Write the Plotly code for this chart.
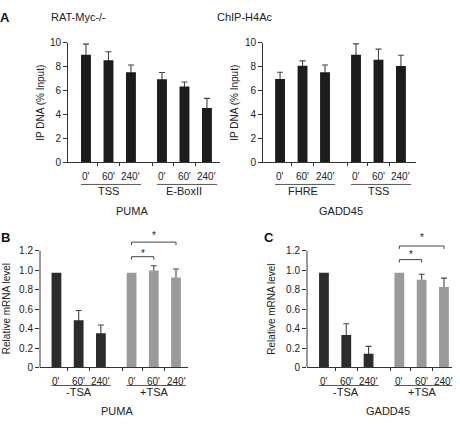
import plotly.graph_objects as go

W, H = 460, 424
FONT = "Liberation Sans, Arial, Helvetica, sans-serif"

# ---------------- data ----------------
times = ["0'", "60'", "240'"]

# Panel A - ChIP-H4Ac
a_title_left = "RAT-Myc-/-"
a_title_right = "ChIP-H4Ac"
a_ylabel = "IP DNA (% Input)"
a_left_gene = "PUMA"
a_left_groups = ["TSS", "E-BoxII"]
a_left_vals = [9.0, 8.56, 7.55, 6.95, 6.35, 4.56]
a_left_err = [0.9, 0.7, 0.6, 0.57, 0.38, 0.8]

a_right_gene = "GADD45"
a_right_groups = ["FHRE", "TSS"]
a_right_vals = [6.98, 8.1, 7.55, 9.02, 8.59, 8.07]
a_right_err = [0.57, 0.4, 0.6, 0.9, 0.89, 0.9]

a_yticks = [0, 2, 4, 6, 8, 10]
a_yticktext = ["0", "2", "4", "6", "8", "10"]

# Panels B / C - relative mRNA
bc_ylabel = "Relative mRNA level"
bc_groups = ["-TSA", "+TSA"]
b_gene = "PUMA"
b_vals = [0.975, 0.487, 0.353, 0.975, 0.997, 0.927]
b_err = [0, 0.1, 0.084, 0, 0.05, 0.086]
b_brackets = [(3, 4, 1.14, 1.20), (3, 5, 1.29, 1.39)]

c_gene = "GADD45"
c_vals = [0.975, 0.333, 0.14, 0.975, 0.903, 0.827]
c_err = [0, 0.117, 0.077, 0, 0.057, 0.093]
c_brackets = [(3, 4, 1.11, 1.19), (3, 5, 1.25, 1.37)]

bc_yticks = [0, 0.2, 0.4, 0.6, 0.8, 1.0, 1.2]
bc_yticktext = ["0", "0.2", "0.4", "0.6", "0.8", "1.0", "1.2"]
star = "*"

# ---------------- styling ----------------
GAP = 3.38
positions = [g * GAP + t for g in range(2) for t in range(3)]
DARK_A = "#1c1c1c"
DARK_BC = "#2c2c2c"
GRAY = "#9a9a9a"
LINE = "#333333"
TXT = "#222222"

fig = go.Figure()
shapes = []
annotations = []


def px_x(p):
    return p / W


def px_y(p):
    return 1 - p / H


def note(text, x, y, size=10, **kw):
    d = dict(text=text, x=x, y=y, showarrow=False, xanchor="center",
             yanchor="middle", font=dict(size=size, color=kw.pop("color", TXT),
                                          family=FONT))
    d.update(kw)
    return d


def add_panel(n, vals, err, colors, groups, gene, xdom, ydom, xrange, yrange,
              yticks, yticktext, ylabel, ylabel_xy, gene_x, offs, axis_line_top=None):
    xs = "" if n == 1 else str(n)
    xa, ya = "x" + xs, "y" + xs
    # error bars (drawn underneath the bars so only the upper half shows)
    ex = [positions[i] for i in range(6) if err[i] > 0]
    ey = [vals[i] for i in range(6) if err[i] > 0]
    ee = [err[i] for i in range(6) if err[i] > 0]
    fig.add_trace(go.Bar(x=ex, y=ey, width=0.44, xaxis=xa, yaxis=ya,
                         marker=dict(color="rgba(0,0,0,0)", line=dict(width=0)),
                         error_y=dict(type="data", array=ee, symmetric=True,
                                      color="#444444", thickness=1.1, width=3),
                         showlegend=False, hoverinfo="skip"))
    fig.add_trace(go.Bar(x=positions, y=vals, width=0.44, xaxis=xa, yaxis=ya,
                         marker=dict(color=colors, line=dict(width=0)),
                         showlegend=False))
    fig.layout["xaxis" + xs] = dict(
        domain=[px_x(xdom[0]), px_x(xdom[1])], range=xrange, anchor=ya,
        showline=True, linecolor=LINE, linewidth=1, ticks="outside",
        tickvals=[0.5, 1.5, GAP - 0.4, GAP + 0.5, GAP + 1.5], ticklen=3,
        tickcolor=LINE, showticklabels=False, showgrid=False, zeroline=False,
        fixedrange=True)
    fig.layout["yaxis" + xs] = dict(
        domain=[px_y(ydom[1]), px_y(ydom[0])], range=yrange, anchor=xa,
        showline=axis_line_top is None, linecolor=LINE, linewidth=1,
        ticks="outside", ticklen=4, tickcolor=LINE, tickvals=yticks,
        ticktext=yticktext, tickfont=dict(size=10, color=TXT, family=FONT),
        showgrid=False, zeroline=False, fixedrange=True)
    if axis_line_top is not None:
        shapes.append(dict(type="line", xref=xa + " domain", yref=ya, x0=0, x1=0,
                           y0=0, y1=axis_line_top, line=dict(color=LINE, width=1)))
    t_off, u_off, g_off, gene_off = offs
    for i, p in enumerate(positions):
        annotations.append(note(times[i % 3], p, 0, 10, xref=xa, yref=ya + " domain",
                                yshift=t_off))
    for g, name in enumerate(groups):
        shapes.append(dict(type="line", xref=xa, yref=ya + " domain",
                           ysizemode="pixel", yanchor=0, x0=g * GAP - 0.22,
                           x1=g * GAP + 2.45, y0=u_off, y1=u_off,
                           line=dict(color="#555555", width=1)))
        annotations.append(note(name, g * GAP + 1, 0, 11, xref=xa,
                                yref=ya + " domain", yshift=g_off))
    annotations.append(note(gene, gene_x, 0, 11, xref=xa, yref=ya + " domain",
                            yshift=gene_off))
    annotations.append(note(ylabel, px_x(ylabel_xy[0]), px_y(ylabel_xy[1]), 10,
                            xref="paper", yref="paper", textangle=-90))
    return xa, ya


colors_a = [DARK_A] * 6
colors_bc = [DARK_BC] * 3 + [GRAY] * 3

add_panel(1, a_left_vals, a_left_err, colors_a, a_left_groups, a_left_gene,
          (68, 220), (38, 161), [-0.80, 5.96], [0, 10], a_yticks, a_yticktext,
          a_ylabel, (41, 99.5), 2.04, (-14, -22, -29, -49))
add_panel(2, a_right_vals, a_right_err, colors_a, a_right_groups, a_right_gene,
          (263, 416), (38, 161), [-0.76, 6.05], [0, 10], a_yticks, a_yticktext,
          a_ylabel, (235, 99.5), 2.69, (-14, -22, -29, -49))

for n, vals, err, gene, xdom, xr, ylx, gx, brackets in [
        (3, b_vals, b_err, b_gene, (40, 188), [-0.74, 5.92], 6, 2.72, b_brackets),
        (4, c_vals, c_err, c_gene, (307, 452), [-0.76, 5.74], 271.5, 2.85, c_brackets)]:
    add_panel(n, vals, err, colors_bc, bc_groups, gene, xdom, (227, 372), xr,
              [0, 1.45], bc_yticks, bc_yticktext, bc_ylabel, (ylx, 312), gx,
              (-14, -18, -25, -44), axis_line_top=1.2)
    xa, ya = "x" + str(n), "y" + str(n)
    for i0, i1, lvl, slvl in brackets:
        x0, x1 = positions[i0], positions[i1]
        shapes.append(dict(type="path", xref=xa, yref=ya, fillcolor="rgba(0,0,0,0)",
                           path=f"M {x0},{lvl - 0.03} L {x0},{lvl} L {x1},{lvl} L {x1},{lvl - 0.03}",
                           line=dict(color="#444444", width=1)))
        annotations.append(note(star, (x0 + x1) / 2, slvl, 10, xref=xa, yref=ya,
                                yshift=-3))

# panel titles
annotations += [
    note("<b>A</b>", px_x(4.5), px_y(11.5), 13, xref="paper", yref="paper", color="#111111"),
    note(a_title_left, px_x(78), px_y(11.5), 11, xref="paper", yref="paper"),
    note(a_title_right, px_x(245), px_y(11.5), 11, xref="paper", yref="paper"),
    note("<b>B</b>", px_x(5), px_y(238.5), 13, xref="paper", yref="paper", color="#111111"),
    note("<b>C</b>", px_x(269), px_y(238.5), 13, xref="paper", yref="paper", color="#111111"),
]

fig.update_layout(
    width=W, height=H, margin=dict(l=0, r=0, t=0, b=0),
    paper_bgcolor="white", plot_bgcolor="white", barmode="overlay",
    shapes=shapes, annotations=annotations, showlegend=False,
    font=dict(family=FONT, size=10, color=TXT),
)

fig.write_html("out.html", config={"displayModeBar": False},
               post_script="document.body.style.margin='0';")
